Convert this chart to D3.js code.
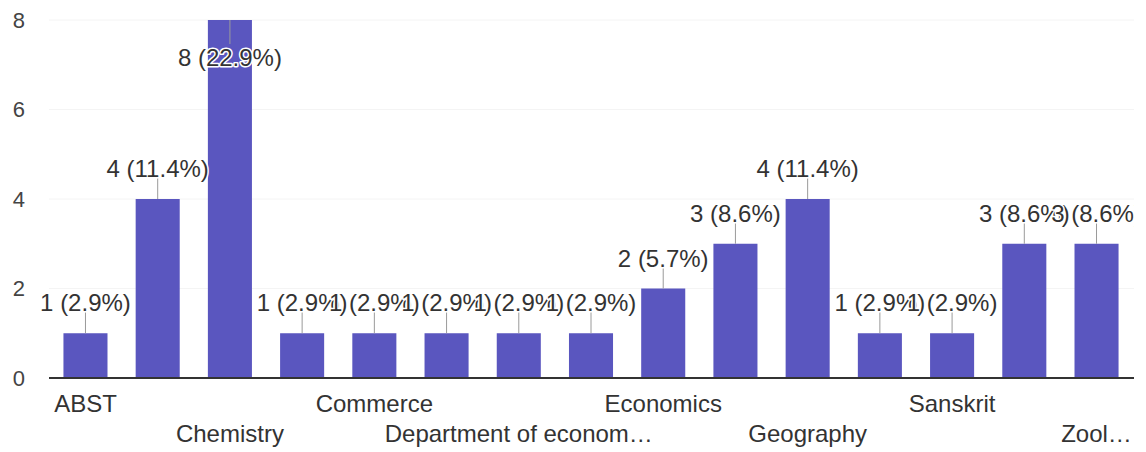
<!DOCTYPE html>
<html>
<head>
<meta charset="utf-8">
<script src="https://cdn.jsdelivr.net/npm/d3@7"></script>
<style>
  html, body { margin: 0; padding: 0; background: #fff; }
  svg { display: block; }
  text { font-family: "Liberation Sans", Arial, sans-serif; }
</style>
</head>
<body>
<svg id="chart" width="1146" height="452"></svg>
<script>
// ---- data ----
const categories = ["ABST", "Botany", "Chemistry", "Civics", "Commerce", "Computer Science",
  "Department of economics", "Economic", "Economics", "English", "Geography", "History",
  "Sanskrit", "Sociology", "Zoology"];
const values = [1, 4, 8, 1, 1, 1, 1, 1, 2, 3, 4, 1, 1, 3, 3];
const tickLabels = ["ABST", "", "Chemistry", "", "Commerce", "", "Department of econom\u2026", "",
  "Economics", "", "Geography", "", "Sanskrit", "", "Zool\u2026"];
const yTicks = [0, 2, 4, 6, 8];

// ---- layout ----
const W = 1146, H = 452;
const svg = d3.select("#chart");
const total = d3.sum(values);

const x = d3.scaleBand().domain(categories).range([49, 1133]).paddingInner(0.39).paddingOuter(0.2);
const y = d3.scaleLinear().domain([0, 8]).range([378, 20]);

// gridlines (very faint)
svg.append("g").selectAll("line").data(yTicks.filter(t => t > 0)).join("line")
  .attr("x1", 49).attr("x2", 1134)
  .attr("y1", d => y(d)).attr("y2", d => y(d))
  .attr("stroke", "#f4f4f4").attr("stroke-width", 1);

// y axis labels
const yAxis = d3.axisLeft(y).tickValues(yTicks).tickSize(0).tickPadding(0).tickFormat(d3.format("d"));
const gy = svg.append("g").attr("transform", "translate(25,0)").call(yAxis);
gy.select(".domain").remove();
gy.selectAll("text").attr("font-size", 22).attr("fill", "#444")
  .attr("font-family", "'Liberation Sans', Arial, sans-serif");

// bars
svg.append("g").selectAll("rect").data(values).join("rect")
  .attr("x", (d, i) => x(categories[i]))
  .attr("width", x.bandwidth())
  .attr("y", d => y(d))
  .attr("height", d => y(0) - y(d))
  .attr("fill", "#5a56bf");

// baseline
svg.append("line").attr("x1", 49).attr("x2", 1134).attr("y1", y(0)).attr("y2", y(0))
  .attr("stroke", "#333").attr("stroke-width", 2);

// x axis labels (alternating rows)
const xAxis = d3.axisBottom(x).tickSize(0).tickPadding(0).tickFormat((d, i) => tickLabels[i]);
const gx = svg.append("g").call(xAxis);
gx.select(".domain").remove();
gx.selectAll(".tick text")
  .attr("font-size", 24).attr("fill", "#333")
  .attr("font-family", "'Liberation Sans', Arial, sans-serif")
  .attr("dy", null)
  .attr("y", (d, i) => (i % 4 === 0) ? 412 : 442);

// value annotations
svg.append("defs").append("clipPath").attr("id", "clipArea")
  .append("rect").attr("x", 0).attr("y", 0).attr("width", 1134).attr("height", H);
const ann = svg.append("g").attr("clip-path", "url(#clipArea)");
const stem = 22;
values.forEach((v, i) => {
  const cx = x(categories[i]) + x.bandwidth() / 2;
  const top = y(v);
  const label = `${v} (${(v / total * 100).toFixed(1)}%)`;
  const flip = top - stem - 18 < 0;
  const y1 = top, y2 = flip ? top + stem + 2 : top - stem;
  const base = flip ? top + 46 : top - stem;
  ann.append("line").attr("x1", cx).attr("x2", cx).attr("y1", y1).attr("y2", y2)
    .attr("stroke", "#9a9a9a").attr("stroke-width", 1);
  ann.append("text").attr("x", cx).attr("y", base)
    .attr("text-anchor", "middle").attr("font-size", 24).attr("fill", "#333")
    .attr("stroke", "#fff").attr("stroke-width", 3).attr("stroke-linejoin", "round")
    .attr("paint-order", "stroke")
    .text(label);
});
</script>
</body>
</html>
